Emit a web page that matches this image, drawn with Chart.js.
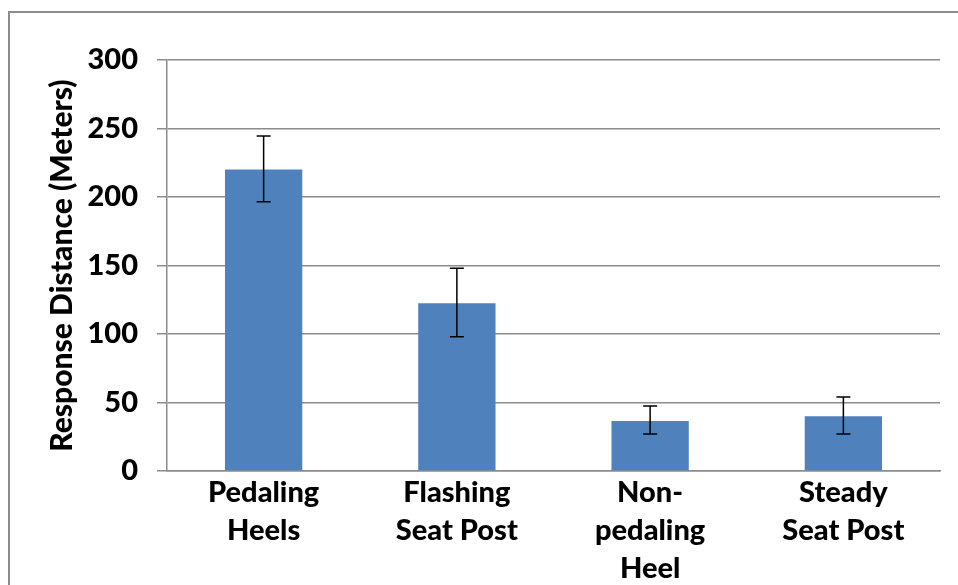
<!DOCTYPE html>
<html>
<head>
<meta charset="utf-8">
<script src="https://cdn.jsdelivr.net/npm/chart.js@4.4.0/dist/chart.umd.min.js"></script>
<style>
    html, body { margin: 0; padding: 0; background: #fff; }
    #wrap { position: relative; width: 958px; height: 585px; overflow: hidden; }
    #frame { position: absolute; left: 8px; top: 11px; width: 980px; height: 600px; border: 2px solid #8c8c8c; }
    canvas { position: absolute; left: 0; top: 0; }
</style>
</head>
<body>
<div id="wrap">
    <div id="frame"></div>
    <canvas id="responseChart" width="958" height="585"></canvas>
</div>
<script>
const categories = [['Pedaling', 'Heels'], ['Flashing', 'Seat Post'], ['Non-', 'pedaling', 'Heel'], ['Steady', 'Seat Post']];
const distances = [220, 122.5, 36.5, 40];
const errLow = [196.5, 98, 27, 27];
const errHigh = [244.5, 148, 47.5, 54];
const yTicks = [0, 50, 100, 150, 200, 250, 300];

const fontFamily = 'Lato, "Open Sans", sans-serif';

// draws the error bars on top of the bars
const errorBars = {
    id: 'errorBars',
    afterDatasetsDraw(chart) {
        const ctx = chart.ctx;
        const meta = chart.getDatasetMeta(0);
        const y = chart.scales.y;
        ctx.save();
        ctx.strokeStyle = '#000';
        ctx.lineWidth = 1.5;
        meta.data.forEach(function (bar, i) {
            const x = bar.x;
            const top = y.getPixelForValue(errHigh[i]);
            const bottom = y.getPixelForValue(errLow[i]);
            ctx.beginPath();
            ctx.moveTo(x, top);
            ctx.lineTo(x, bottom);
            ctx.moveTo(x - 7, top);
            ctx.lineTo(x + 7, top);
            ctx.moveTo(x - 7, bottom);
            ctx.lineTo(x + 7, bottom);
            ctx.stroke();
        });
        ctx.restore();
    }
};

new Chart(document.getElementById('responseChart'), {
    type: 'bar',
    data: {
        labels: categories,
        datasets: [{
            data: distances,
            backgroundColor: '#4f81bd',
            borderWidth: 0,
            barPercentage: 0.4,
            categoryPercentage: 1
        }]
    },
    options: {
        responsive: false,
        animation: false,
        layout: { padding: { top: 60, right: 18, bottom: 0, left: 0 } },
        plugins: {
            legend: { display: false },
            tooltip: { enabled: false }
        },
        scales: {
            x: {
                grid: { display: false, drawTicks: false },
                border: { color: '#8c8c8c', width: 1.5 },
                ticks: {
                    color: '#000',
                    padding: 3,
                    maxRotation: 0,
                    autoSkip: false,
                    font: { family: fontFamily, size: 29, weight: '900', lineHeight: 1.3 }
                },
                afterFit: function (scale) { scale.height = 114; }
            },
            y: {
                min: 0,
                max: 300,
                afterBuildTicks: function (scale) {
                    scale.ticks = yTicks.map(function (v) { return { value: v }; });
                },
                grid: { color: '#8c8c8c', lineWidth: 1.5, tickLength: 10 },
                border: { color: '#8c8c8c', width: 1.5 },
                ticks: {
                    color: '#000',
                    padding: 19,
                    font: { family: fontFamily, size: 29, weight: '900' }
                },
                title: {
                    display: true,
                    text: 'Response Distance (Meters)',
                    color: '#000',
                    padding: { top: 44, bottom: 0 },
                    font: { family: fontFamily, size: 30, weight: '900' }
                },
                afterFit: function (scale) { scale.width = 167; }
            }
        }
    },
    plugins: [errorBars]
});
</script>
</body>
</html>
